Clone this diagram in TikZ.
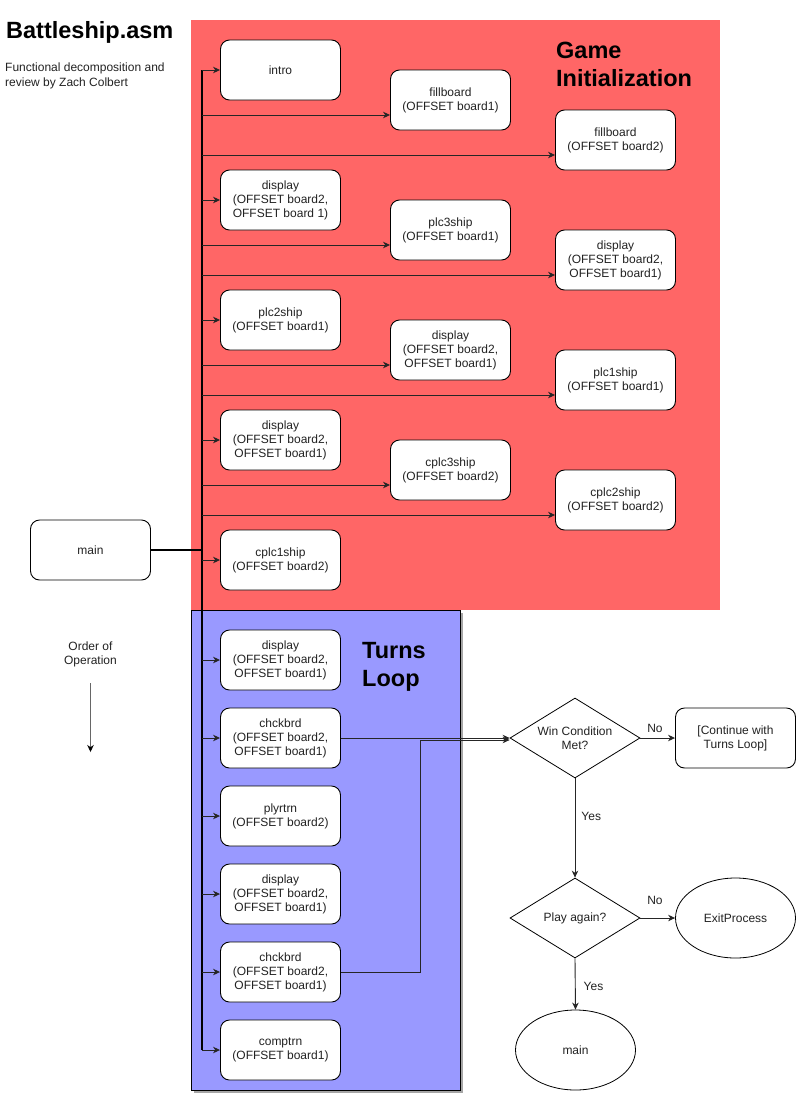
\documentclass[tikz,border=0pt]{standalone}
\usepackage{fontspec}
\setmainfont{Liberation Sans}
\usetikzlibrary{arrows.meta,shapes.geometric,calc}
\definecolor{initred}{HTML}{FF6666}
\definecolor{loopblue}{HTML}{9999FF}
\definecolor{txtgray}{HTML}{222222}
\begin{document}
\begin{tikzpicture}[x=1pt,y=-1pt,
  fn/.style={draw=black,fill=white,rounded corners=9pt,minimum width=120pt,minimum height=60pt,
    align=center,inner sep=0pt,font=\fontsize{12}{14}\selectfont,text=txtgray,line width=0.9pt},
  dec/.style={draw=black,fill=white,diamond,aspect=1.625,minimum width=130pt,minimum height=80pt,inner sep=0pt,
    align=center,font=\fontsize{12}{14}\selectfont,text=txtgray,line width=0.8pt},
  oval/.style={draw=black,fill=white,ellipse,minimum width=120pt,minimum height=80pt,inner sep=0pt,
    align=center,font=\fontsize{12}{14}\selectfont,text=txtgray,line width=0.8pt},
  arr/.style={-{Stealth[length=7pt,width=6.5pt,inset=2.2pt]},line width=0.9pt,draw=black!85},
  lbl/.style={font=\fontsize{12}{14}\selectfont,text=txtgray,inner sep=0pt},
  hdr/.style={font=\bfseries\fontsize{23.5}{28}\selectfont,align=left,anchor=north west,inner sep=0pt}
]
\useasboundingbox (0,0) rectangle (797,1095);
% group backgrounds
\fill[initred] (191,20) rectangle (720,610);
\fill[black!35] (194,613) rectangle (463,1093);
\draw[fill=loopblue,line width=0.9pt] (191,610) rectangle (460,1090);
% titles
\node[hdr] (title) at (6,21) {Battleship.asm};
\node[font=\fontsize{12}{14.3}\selectfont,align=left,anchor=north west,inner sep=0pt,text=txtgray] (sub) at (5,63) {Functional decomposition and\\review by Zach Colbert};
\node[hdr] (gi) at (556,42) {Game\\Initialization};
\node[hdr] (tl) at (362,642) {Turns\\Loop};
% main
\node[fn] (main) at (90.5,550) {main};
% Order of operation
\node[lbl,align=center] (oo) at (90.5,654) {Order of\\Operation};
\coordinate (ooa) at (90.5,683);
\coordinate (oob) at (90.5,752);
\draw[draw=black!60,line width=0.9pt,-{Stealth[length=7pt,width=6.5pt,inset=2.2pt,black]}] (ooa) -- (oob);
% column A
\node[fn] (intro) at (280.5,70) {intro};
\node[fn] (dispA1) at (280.5,200) {display\\(OFFSET board2,\\OFFSET board 1)};
\node[fn] (plc2) at (280.5,320) {plc2ship\\(OFFSET board1)};
\node[fn] (dispA2) at (280.5,440) {display\\(OFFSET board2,\\OFFSET board1)};
\node[fn] (cplc1) at (280.5,560) {cplc1ship\\(OFFSET board2)};
\node[fn] (dispT1) at (280.5,660) {display\\(OFFSET board2,\\OFFSET board1)};
\node[fn] (chk1) at (280.5,738) {chckbrd\\(OFFSET board2,\\OFFSET board1)};
\node[fn] (plyr) at (280.5,816) {plyrtrn\\(OFFSET board2)};
\node[fn] (dispT2) at (280.5,894) {display\\(OFFSET board2,\\OFFSET board1)};
\node[fn] (chk2) at (280.5,972) {chckbrd\\(OFFSET board2,\\OFFSET board1)};
\node[fn] (comp) at (280.5,1050) {comptrn\\(OFFSET board1)};
% column B
\node[fn] (fb1) at (450.5,100) {fillboard\\(OFFSET board1)};
\node[fn] (plc3) at (450.5,230) {plc3ship\\(OFFSET board1)};
\node[fn] (dispB) at (450.5,350) {display\\(OFFSET board2,\\OFFSET board1)};
\node[fn] (cplc3) at (450.5,470) {cplc3ship\\(OFFSET board2)};
% column C
\node[fn] (fb2) at (615.5,140) {fillboard\\(OFFSET board2)};
\node[fn] (dispC) at (615.5,260) {display\\(OFFSET board2,\\OFFSET board1)};
\node[fn] (plc1) at (615.5,380) {plc1ship\\(OFFSET board1)};
\node[fn] (cplc2) at (615.5,500) {cplc2ship\\(OFFSET board2)};
% decision flow
\node[dec] (win) at (575,738) {Win Condition\\Met?};
\node[fn] (cont) at (735.5,738) {[Continue with\\Turns Loop]};
\node[dec] (again) at (575,918) {Play again?};
\node[oval] (exitp) at (735.5,918) {ExitProcess};
\node[oval] (main2) at (575.5,1050) {main};
% trunk
\coordinate (ttop) at (202,70);
\coordinate (tbot) at (202,1050);
\draw[line width=1.6pt] (ttop) -- (tbot);
\draw[line width=1.6pt] (main.east) -- (main.east -| ttop);
% branches, column A (centre)
\foreach \n in {intro,dispA1,plc2,dispA2,cplc1,dispT1,chk1,plyr,dispT2,chk2,comp}{
  \draw[arr] (\n.west -| ttop) -- (\n.west);
}
% branches, columns B and C (lower quarter)
\foreach \n in {fb1,plc3,dispB,cplc3,fb2,dispC,plc1,cplc2}{
  \draw[arr] ([yshift=-15pt]\n.west -| ttop) -- ([yshift=-15pt]\n.west);
}
% chckbrd to decision
\draw[arr] (chk1.east) -- (win.west);
\coordinate (jn) at (420,972);
\draw[arr] (chk2.east) -- (jn) -- (420,740) -- ([yshift=-2pt]win.west);
% decisions
\draw[arr] (win.east) -- node[lbl,above=5pt,pos=0.42] (no1) {No} (cont.west);
\draw[arr] (win.south) -- node[lbl,right=6pt,pos=0.38] (yes1) {Yes} (again.north);
\draw[arr] (again.east) -- node[lbl,above=13pt,pos=0.42] (no2) {No} (exitp.west);
\draw[arr] (again.south) -- node[lbl,right=8pt,pos=0.55] (yes2) {Yes} (main2.north);
\end{tikzpicture}
\end{document}
